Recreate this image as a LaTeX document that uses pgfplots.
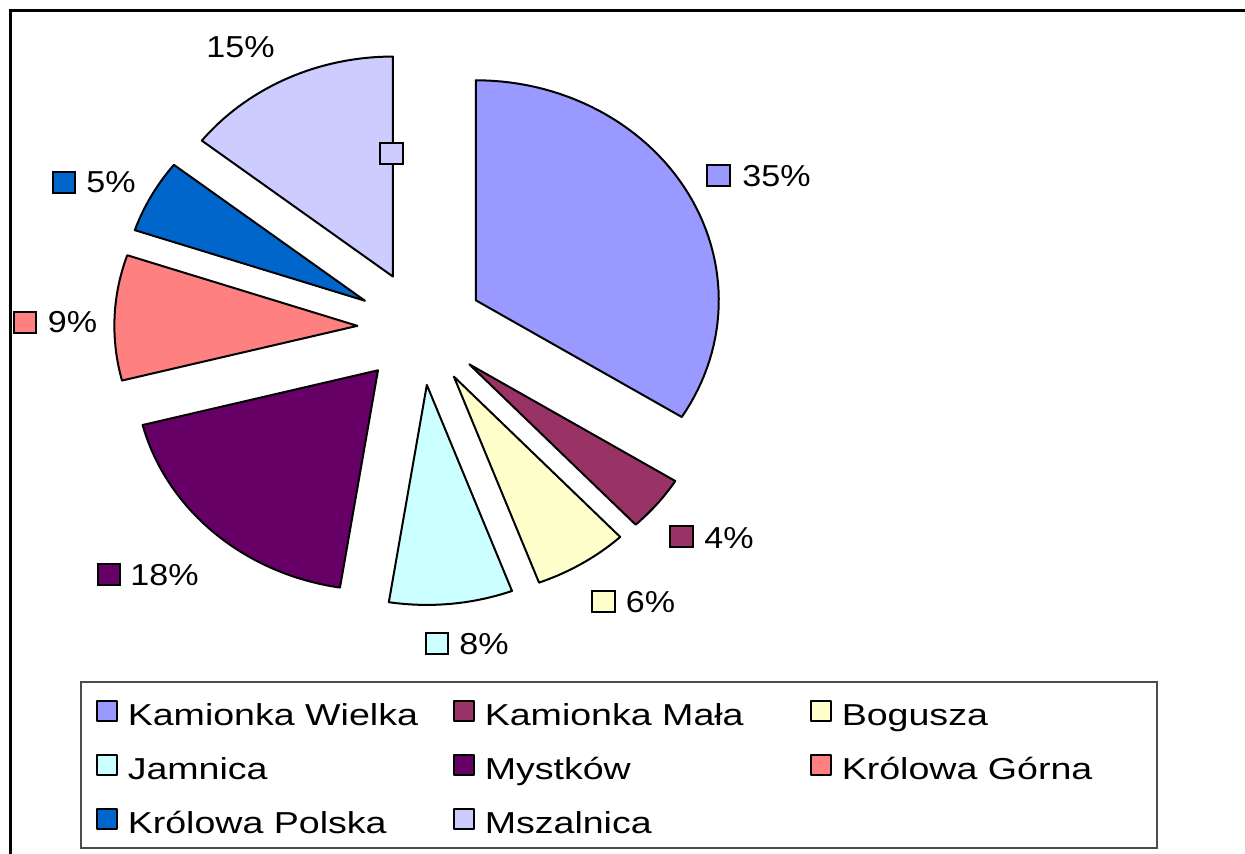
\documentclass[border=0pt]{standalone}
\usepackage{fontspec}
\setmainfont{Liberation Sans}
\newfontfamily\legfont{Liberation Sans}[FakeStretch=1.24]
\newfontfamily\labfont{Liberation Sans}[FakeStretch=1.125]
\usepackage{pgfplots}
\usepackage{pgfplotstable}
\pgfplotsset{compat=1.18}
\newdimen\px \px=0.5pt

\definecolor{cKW}{HTML}{9999FF}
\definecolor{cKM}{HTML}{993366}
\definecolor{cBo}{HTML}{FFFFCC}
\definecolor{cJa}{HTML}{CCFFFF}
\definecolor{cMy}{HTML}{660066}
\definecolor{cKG}{HTML}{FF8080}
\definecolor{cKP}{HTML}{0066CC}
\definecolor{cMs}{HTML}{CCCCFF}

% shares of the pie, clockwise from 12 o'clock
\pgfplotstableread{
idx value
0 33.9
1 4.1
2 6.3
3 8.2
4 18.5
5 9.2
6 5.4
7 14.4
}\pietable

% pie geometry in pixels: centre, radii (x stretched), explosion
\def\Cx{420.5}
\def\Cy{328}
\def\Rx{243}
\def\Ry{220}
\def\E{0.26}

\def\cum{0}
\pgfplotsforeachungrouped \i in {0,...,7}{%
  \pgfplotstablegetelem{\i}{value}\of\pietable
  \let\myval\pgfplotsretval
  \pgfmathsetmacro\sA{90-3.6*\cum}%
  \pgfmathsetmacro\cum{\cum+\myval}%
  \pgfmathsetmacro\sB{90-3.6*\cum}%
  \expandafter\xdef\csname sa\i\endcsname{\sA}%
  \expandafter\xdef\csname sb\i\endcsname{\sB}%
}

\newcommand\slice[3]{%
  \pgfmathsetmacro\A{\csname sa#1\endcsname}%
  \pgfmathsetmacro\B{\csname sb#1\endcsname}%
  \pgfmathsetmacro\M{((\A)+(\B))/2}%
  \pgfmathsetmacro\Vx{\Cx+\Rx*\E*cos(\M)}%
  \pgfmathsetmacro\Vy{\Cy-\Ry*\E*sin(\M)}%
  \edef\temp{\noexpand\addplot[fill=#2, draw=black, line width=2\noexpand\px, line join=round,
      variable=\noexpand\t, samples at={-1,0,...,61}]
    ({\Vx+ifthenelse(abs(\noexpand\t-30)>30.5,0,\Rx*cos((\A)+((\B)-(\A))*\noexpand\t/60))},
     {\Vy-ifthenelse(abs(\noexpand\t-30)>30.5,0,\Ry*sin((\A)+((\B)-(\A))*\noexpand\t/60))}) -- cycle;}%
  \temp
  \addlegendentry{#3}%
}

\newcommand\labfnt{\labfont\fontsize{15.15pt}{18pt}\selectfont}

\begin{document}
\begin{tikzpicture}
\begin{axis}[
  width=1245\px, height=854\px, scale only axis,
  xmin=0, xmax=1245, ymin=0, ymax=854, y dir=reverse,
  enlargelimits=false, hide axis, clip=true,
  legend columns=3,
  legend cell align=left,
  legend image code/.code={\draw[#1, line width=2\px] (1\px,-10\px) rectangle (21\px,10\px);},
  legend style={at={(axis cs:80,681)}, anchor=north west,
    draw=black!70, line width=1.5\px, fill=white,
    inner xsep=15\px, inner ysep=7\px, row sep=10\px,
    nodes={inner sep=0pt, text height=36.3\px, text depth=7.7\px},
    /tikz/every odd column/.style={column sep=10\px},
    font=\legfont\fontsize{15.15pt}{18pt}\selectfont},
]
\path (axis cs:0,0) rectangle (axis cs:1245,854);
\draw[line width=3\px] (axis cs:10,900) -- (axis cs:10,11) -- (axis cs:1300,11);

\slice{0}{cKW}{\makebox[325\px][l]{Kamionka Wielka}}
\slice{1}{cKM}{\makebox[325\px][l]{Kamionka Mała}}
\slice{2}{cBo}{\makebox[300\px][l]{Bogusza}}
\slice{3}{cJa}{\makebox[325\px][l]{Jamnica}}
\slice{4}{cMy}{\makebox[325\px][l]{Mystków}}
\slice{5}{cKG}{\makebox[300\px][l]{Królowa Górna}}
\slice{6}{cKP}{\makebox[325\px][l]{Królowa Polska}}
\slice{7}{cMs}{\makebox[325\px][l]{Mszalnica}}

% data-label keys
\addplot[forget plot, only marks, mark=square*, mark size=10.5\px, mark options={fill=cKW, draw=black, line width=2\px, xscale=1.07}] coordinates {(718.7,176)};
\addplot[forget plot, only marks, mark=square*, mark size=10.5\px, mark options={fill=cKM, draw=black, line width=2\px, xscale=1.07}] coordinates {(681.5,536.5)};
\addplot[forget plot, only marks, mark=square*, mark size=10.5\px, mark options={fill=cBo, draw=black, line width=2\px, xscale=1.07}] coordinates {(603.5,601.5)};
\addplot[forget plot, only marks, mark=square*, mark size=10.5\px, mark options={fill=cJa, draw=black, line width=2\px, xscale=1.07}] coordinates {(437,643.5)};
\addplot[forget plot, only marks, mark=square*, mark size=10.5\px, mark options={fill=cMy, draw=black, line width=2\px, xscale=1.07}] coordinates {(109,574)};
\addplot[forget plot, only marks, mark=square*, mark size=10.5\px, mark options={fill=cKG, draw=black, line width=2\px, xscale=1.07}] coordinates {(25,322.5)};
\addplot[forget plot, only marks, mark=square*, mark size=10.5\px, mark options={fill=cKP, draw=black, line width=2\px, xscale=1.07}] coordinates {(64,183)};
\addplot[forget plot, only marks, mark=square*, mark size=10.5\px, mark options={fill=cMs, draw=black, line width=2\px, xscale=1.07}] coordinates {(391.5,153.5)};

\node[anchor=base west, inner sep=0, font=\labfnt] at (axis cs:742,187) {35\%};
\node[anchor=base west, inner sep=0, font=\labfnt] at (axis cs:704,548) {4\%};
\node[anchor=base west, inner sep=0, font=\labfnt] at (axis cs:625.5,612) {6\%};
\node[anchor=base west, inner sep=0, font=\labfnt] at (axis cs:459,654) {8\%};
\node[anchor=base west, inner sep=0, font=\labfnt] at (axis cs:130,585) {18\%};
\node[anchor=base west, inner sep=0, font=\labfnt] at (axis cs:47.5,333) {9\%};
\node[anchor=base west, inner sep=0, font=\labfnt] at (axis cs:86,193) {5\%};
\node[anchor=base west, inner sep=0, font=\labfnt] at (axis cs:206,58) {15\%};
\end{axis}
\end{tikzpicture}
\end{document}
